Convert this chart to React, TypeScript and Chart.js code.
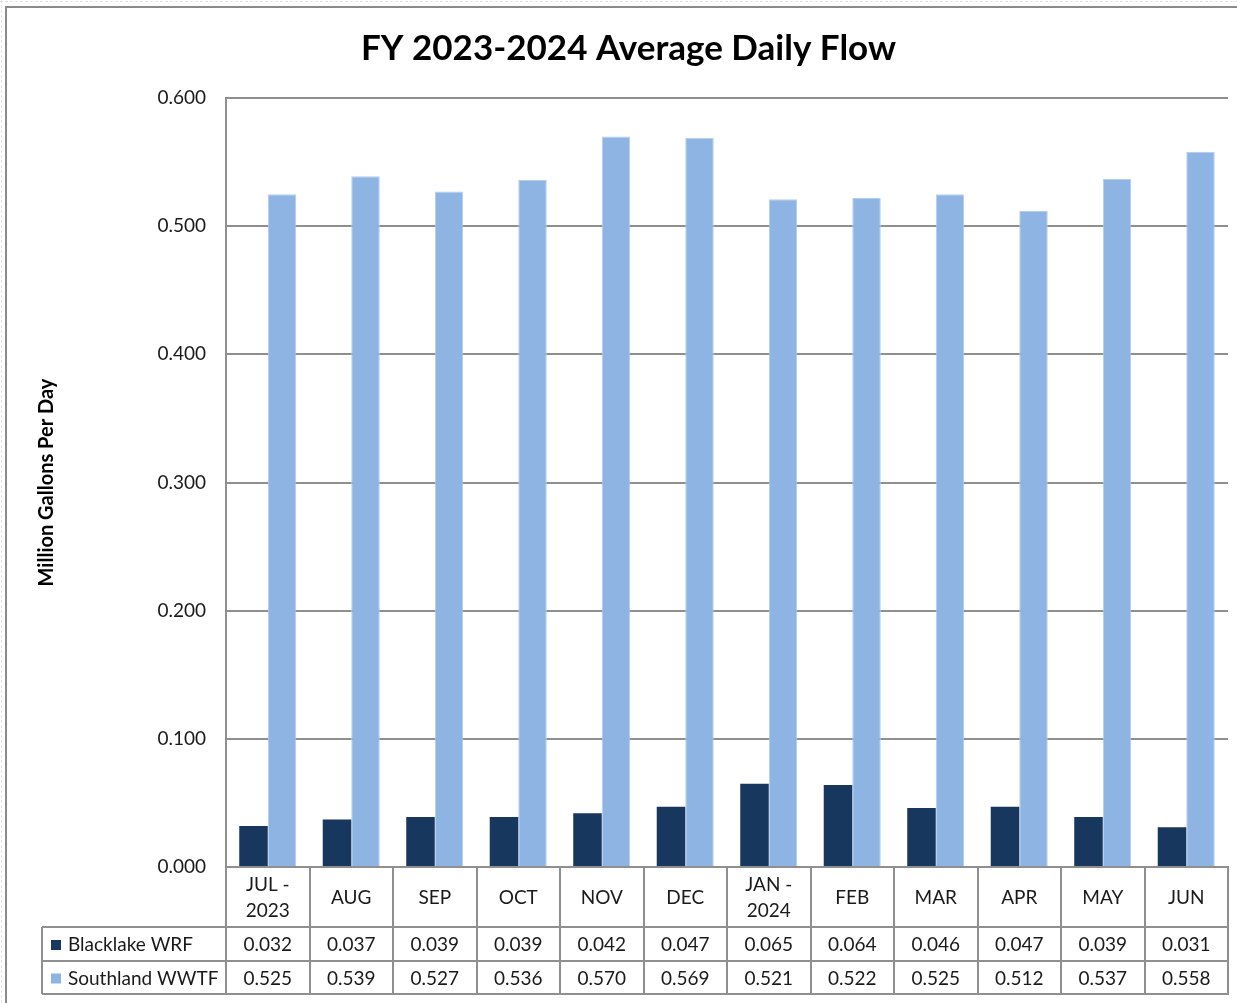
import React, { useEffect, useRef } from "react";
import { Chart, registerables } from "chart.js";

Chart.register(...registerables);

// ---- data ----
const categories: (string | string[])[] = [
  ["JUL -", "2023"], "AUG", "SEP", "OCT", "NOV", "DEC",
  ["JAN -", "2024"], "FEB", "MAR", "APR", "MAY", "JUN",
];
const blacklakeWRF = [0.032, 0.037, 0.039, 0.039, 0.042, 0.047, 0.065, 0.064, 0.046, 0.047, 0.039, 0.031];
const southlandWWTF = [0.525, 0.539, 0.527, 0.536, 0.57, 0.569, 0.521, 0.522, 0.525, 0.512, 0.537, 0.558];
const seriesNames = ["Blacklake WRF", "Southland WWTF"];
const yMin = 0;
const yMax = 0.6;
const yStep = 0.1;
const titleText = "FY 2023-2024 Average Daily Flow";
const yAxisTitle = "Million Gallons Per Day";

const FONT = "Lato, 'Open Sans', sans-serif";
const GRID = "#8f8f8f";
const TEXT = "#1a1a1a";
const DARK = "#17375E";
const LIGHT = "#8DB4E2";

const HEADER_H = 60;
const ROW1_H = 34;
const ROW2_H = 33;
const LEGEND_LEFT = 42;

const tablePlugin = {
  id: "dataTable",
  afterDraw(chart: any) {
    const { ctx, chartArea } = chart;
    const x = chart.scales.x;
    const n = chart.data.labels.length;
    const cw = (chartArea.right - chartArea.left) / n;
    const top = chartArea.bottom;
    const r1 = top + HEADER_H;
    const r2 = r1 + ROW1_H;
    const r3 = r2 + ROW2_H;
    ctx.save();
    ctx.strokeStyle = GRID;
    ctx.lineWidth = 2;
    ctx.beginPath();
    for (let i = 0; i <= n; i++) {
      const xx = Math.round(chartArea.left + i * cw);
      ctx.moveTo(xx, top);
      ctx.lineTo(xx, r3);
    }
    [r1, r2, r3].forEach((yy) => {
      ctx.moveTo(LEGEND_LEFT, yy);
      ctx.lineTo(chartArea.right + 1, yy);
    });
    ctx.moveTo(LEGEND_LEFT, r1);
    ctx.lineTo(LEGEND_LEFT, r3);
    ctx.stroke();

    ctx.font = `19px ${FONT}`;
    ctx.textBaseline = "middle";
    const rows = [
      { y: (r1 + r2) / 2 + 1 },
      { y: (r2 + r3) / 2 + 1 },
    ];
    chart.data.datasets.forEach((ds: any, di: number) => {
      const yy = rows[di].y;
      ctx.fillStyle = ds.backgroundColor;
      ctx.fillRect(LEGEND_LEFT + 9, yy - 5, 10, 10);
      ctx.fillStyle = TEXT;
      ctx.textAlign = "left";
      ctx.fillText(ds.label, LEGEND_LEFT + 26, yy);
      ctx.textAlign = "center";
      ds.data.forEach((v: number, i: number) => {
        ctx.fillText(v.toFixed(3), x.getPixelForValue(i), yy);
      });
    });
    ctx.restore();
  },
};

const framePlugin = {
  id: "frame",
  beforeDraw(chart: any) {
    const { ctx, width, height } = chart;
    ctx.save();
    ctx.fillStyle = "#ffffff";
    ctx.fillRect(0, 0, width, height);
    ctx.strokeStyle = "#e3e3e3";
    ctx.lineWidth = 1;
    ctx.setLineDash([3, 2]);
    ctx.beginPath();
    ctx.moveTo(0, 1.5);
    ctx.lineTo(width, 1.5);
    ctx.moveTo(1.5, 0);
    ctx.lineTo(1.5, height);
    ctx.stroke();
    ctx.setLineDash([]);
    ctx.strokeStyle = "#8a8a8a";
    ctx.lineWidth = 2;
    ctx.strokeRect(6, 7, width + 20, height + 20);
    ctx.restore();
  },
};

export default function App() {
  const ref = useRef<HTMLCanvasElement | null>(null);
  useEffect(() => {
    if (!ref.current) return;
    const chart = new Chart(ref.current, {
      type: "bar",
      data: {
        labels: categories as any,
        datasets: [
          {
            label: seriesNames[0],
            data: blacklakeWRF,
            backgroundColor: DARK,
            borderWidth: 0,
            categoryPercentage: 0.683,
            barPercentage: 1,
          },
          {
            label: seriesNames[1],
            data: southlandWWTF,
            backgroundColor: LIGHT,
            borderColor: "#b4cdee",
            borderWidth: { top: 1, left: 1, right: 1, bottom: 0 },
            categoryPercentage: 0.683,
            barPercentage: 1,
          },
        ],
      },
      options: {
        responsive: false,
        animation: false,
        devicePixelRatio: 1,
        layout: { padding: { left: 29, right: 9, top: 0, bottom: ROW1_H + ROW2_H + 9 } },
        plugins: {
          legend: { display: false },
          tooltip: { enabled: false },
          title: {
            display: true,
            text: titleText,
            color: "#000000",
            font: { family: FONT, size: 35, weight: "bold", lineHeight: 1.2 },
            padding: { top: 28, bottom: 28 },
          },
        },
        scales: {
          x: {
            grid: { display: false, drawTicks: false },
            border: { display: true, color: GRID, width: 2 },
            ticks: {
              color: TEXT,
              font: { family: FONT, size: 19, lineHeight: 1.38 },
              padding: 18,
              crossAlign: "center",
              maxRotation: 0,
              autoSkip: false,
            },
            afterFit: (s: any) => {
              s.height = HEADER_H;
            },
          },
          y: {
            min: yMin,
            max: yMax,
            grid: { color: GRID, lineWidth: 2, drawTicks: false },
            border: { display: true, color: GRID, width: 2 },
            ticks: {
              stepSize: yStep,
              color: TEXT,
              font: { family: FONT, size: 19 },
              padding: 20,
              callback: (v: any) => Number(v).toFixed(3),
            },
            title: {
              display: true,
              text: yAxisTitle,
              color: "#000000",
              font: { family: FONT, size: 20, weight: "bold", lineHeight: 1.2 },
              padding: { top: 6, bottom: 0 },
            },
            afterFit: (s: any) => {
              s.width = 226 - 29;
            },
          },
        },
      },
      plugins: [framePlugin, tablePlugin],
    });
    return () => chart.destroy();
  }, []);
  return (
    <div style={{ position: "absolute", left: 0, top: 0, width: 1237, height: 1003 }}>
      <canvas ref={ref} width={1237} height={1003} />
    </div>
  );
}
